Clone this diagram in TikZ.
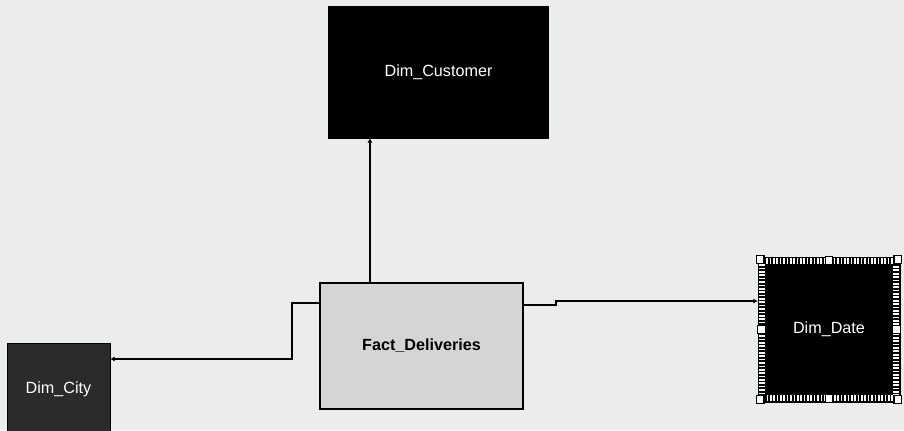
\documentclass[tikz,border=0pt]{standalone}
\usepackage{fontspec}
\setmainfont{Liberation Sans}
\usepackage{xcolor}
\usetikzlibrary{arrows.meta, positioning, calc}

\definecolor{screen}{HTML}{EBECEC}
\definecolor{factgray}{HTML}{D4D5D5}
\definecolor{citygray}{HTML}{2B2B2B}

\begin{document}
\begin{tikzpicture}[
    x=0.025cm, y=-0.025cm,
    dimbox/.style={rectangle, draw=black, fill=black, text=white, inner sep=0pt, font=\fontsize{11.5}{13}\selectfont},
    factbox/.style={rectangle, draw=black, fill=factgray, line width=1.3pt, inner sep=0pt, font=\fontsize{11.5}{13}\selectfont\bfseries},
    handle/.style={rectangle, draw=black, fill=white, line width=0.8pt, minimum size=5.5pt, inner sep=0pt},
    line/.style={draw=black, -{Latex[length=3pt,width=3.5pt]}, line width=1.4pt}
]

% Screen background
\fill[screen] (0,0) rectangle (904,430);
\clip (0,0) rectangle (904,430);

% Tables
\node [dimbox, minimum width=5.5cm, minimum height=3.3cm] (customer) at (438.5,72) {Dim\_Customer};
\node [factbox, minimum width=5.075cm, minimum height=3.15cm] (fact) at (421.5,346) {Fact\_Deliveries};
\node [dimbox, fill=citygray, minimum width=2.575cm, minimum height=2.3cm] (city) at (58.5,389) {Dim\_City};
\node [dimbox, minimum width=3.55cm, minimum height=3.625cm] (date) at (829,329.5) {Dim\_Date};

% Selection frame round Dim_Date
\draw[white, line width=4pt, dash pattern=on 1.2pt off 1.2pt]
    ([xshift=3pt,yshift=-3pt]date.north west) rectangle ([xshift=-3pt,yshift=3pt]date.south east);
\foreach \a/\n in {north west/hnw, north/hn, north east/hne, east/he, south east/hse, south/hs, south west/hsw, west/hw}
    \node [handle] (\n) at ($(date.\a)!2.5pt!(date.center)$) {};

% Connections
\path [line] ([xshift=-1.29cm]fact.north) -- ([xshift=-1.29cm]fact.north |- customer.south);
\path [line] ([yshift=1.075cm]fact.west) -- ++(-27,0) |- ([yshift=0.75cm]city.east);
\path [line] ([yshift=1.025cm]fact.east) -- ++(32,0) |- ([yshift=0.71cm]date.west);

\end{tikzpicture}
\end{document}
